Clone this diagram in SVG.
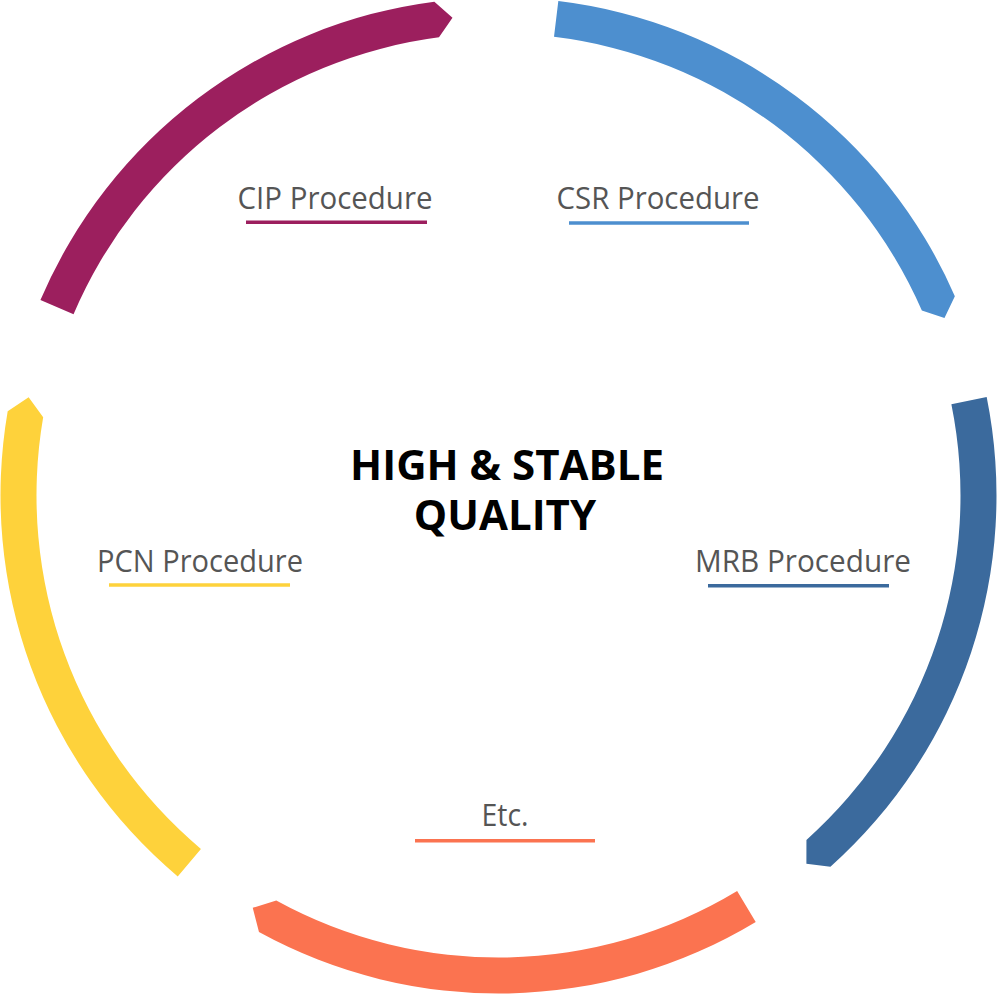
<svg xmlns="http://www.w3.org/2000/svg" width="998" height="994" viewBox="0 0 998 994">
<style>
.lbl{font-family:"Open Sans","Noto Sans","Liberation Sans",sans-serif;font-size:31px;fill:#555555;text-anchor:middle}
.title{font-family:"Open Sans","Noto Sans","Liberation Sans",sans-serif;font-size:42px;font-weight:bold;fill:#000000;text-anchor:middle}
.ul{stroke-width:3.5;fill:none}
</style>
<rect width="998" height="994" fill="#ffffff"/>
<g id="ring">
<path id="seg-cip" fill="#9c1f5e" d="M40.43,300.11 A498,498 0 0 1 434.36,1.65 L452.49,17.71 L438.99,37.35 A462,462 0 0 0 73.54,314.24 Z"/>
<path id="seg-csr" fill="#4d8fcf" d="M558.33,1.11 A498,498 0 0 1 954.85,296.13 L944.48,318.02 L921.86,310.54 A462,462 0 0 0 554.00,36.84 Z"/>
<path id="seg-mrb" fill="#3b6a9d" d="M986.67,397.07 A498,498 0 0 1 830.43,866.75 L806.40,863.74 L806.44,839.91 A462,462 0 0 0 951.38,404.18 Z"/>
<path id="seg-etc" fill="#fb7350" d="M755.73,921.92 A498,498 0 0 1 258.97,932.11 L252.72,907.80 L276.28,900.55 A462,462 0 0 0 737.14,891.10 Z"/>
<path id="seg-pcn" fill="#fed23b" d="M177.73,876.43 A498,498 0 0 1 7.69,411.16 L28.64,397.34 L43.17,417.26 A462,462 0 0 0 200.92,848.89 Z"/>
</g>
<g id="center">
<text class="title" x="507" y="480">HIGH &amp; STABLE</text>
<text class="title" x="505" y="530">QUALITY</text>
</g>
<g id="node-cip">
<text class="lbl" x="335" y="209" textLength="195" lengthAdjust="spacingAndGlyphs">CIP Procedure</text>
<line class="ul" stroke="#9c1f5e" x1="246" y1="222.3" x2="427" y2="222.3"/>
</g>
<g id="node-csr">
<text class="lbl" x="658" y="209" textLength="203" lengthAdjust="spacingAndGlyphs">CSR Procedure</text>
<line class="ul" stroke="#4d8fcf" x1="569" y1="223" x2="749" y2="223"/>
</g>
<g id="node-pcn">
<text class="lbl" x="200" y="572" textLength="206" lengthAdjust="spacingAndGlyphs">PCN Procedure</text>
<line class="ul" stroke="#fed23b" x1="109" y1="585" x2="290" y2="585"/>
</g>
<g id="node-mrb">
<text class="lbl" x="803" y="572" textLength="216" lengthAdjust="spacingAndGlyphs">MRB Procedure</text>
<line class="ul" stroke="#3b6a9d" x1="708" y1="585.7" x2="889" y2="585.7"/>
</g>
<g id="node-etc">
<text class="lbl" x="505" y="826" textLength="47" lengthAdjust="spacingAndGlyphs">Etc.</text>
<line class="ul" stroke="#fb7350" x1="415" y1="840.7" x2="595" y2="840.7"/>
</g>
</svg>
